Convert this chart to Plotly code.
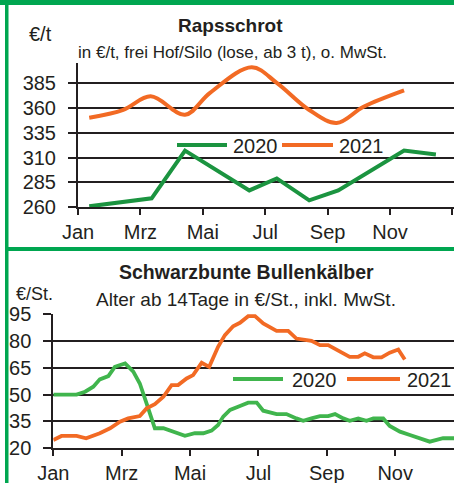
import plotly.graph_objects as go

W, H = 454, 483
FONT = "Liberation Sans, Arial, sans-serif"
TXT = "#231f20"
GREEN_DARK = "#1b9440"
GREEN_LIGHT = "#40b54d"
ORANGE = "#f26a24"
BORDER = "#00a650"

# ---- data ----
month_ticks = [0, 2, 4, 6, 8, 10, 12]
month_labels = ["Jan", "Mrz", "Mai", "Jul", "Sep", "Nov", ""]

raps_ticks = [260, 285, 310, 335, 360, 385]
raps_2020_x = [0.36, 2.36, 3.43, 5.49, 6.37, 7.41, 8.34, 10.45, 11.47]
raps_2020_y = [261, 269, 317, 277, 289, 267, 277, 317, 313]
raps_2021_x = [0.36, 1.45, 2.33, 3.43, 4.23, 5.57, 6.37, 7.40, 8.29, 9.15, 10.45]
raps_2021_y = [350, 358, 371.5, 353, 375, 400.7, 385, 358, 344.7, 361, 377.5]

kalb_ticks = [20, 35, 50, 65, 80, 95]
kalb_2020_x = [0, 0.68, 0.93, 1.17, 1.36, 1.61, 1.80, 2.10, 2.34, 2.53, 2.73, 2.97, 3.22,
               3.51, 3.85, 4.14, 4.39, 4.63, 4.82, 4.97, 5.17, 5.46, 5.70, 5.95, 6.14,
               6.53, 6.82, 7.11, 7.31, 7.55, 7.80, 8.04, 8.24, 8.48, 8.67, 8.92, 9.16,
               9.36, 9.65, 9.84, 10.14, 10.43, 10.72, 11.01, 11.40, 11.72]
kalb_2020_y = [50, 50, 51.6, 54.4, 58.5, 60.3, 65.5, 67.4, 62.8, 56.2, 45, 31.2, 31.2,
               29.3, 27, 28.4, 28.4, 29.9, 33, 37.7, 41.4, 43.6, 45.5, 45.5, 41,
               39.1, 39.1, 36.7, 35.4, 36.7, 38, 38, 39.1, 36.7, 35.4, 36.7, 35.4,
               36.7, 36.7, 32.5, 29.3, 27.4, 25.6, 23.7, 25.6, 25.6]
kalb_2021_x = [0, 0.24, 0.68, 0.96, 1.36, 1.66, 1.95, 2.19, 2.53, 2.73, 2.97, 3.22, 3.46,
               3.65, 3.90, 4.09, 4.34, 4.56, 4.82, 5.02, 5.26, 5.46, 5.70, 5.90, 6.14,
               6.53, 6.87, 7.11, 7.55, 7.80, 8.04, 8.28, 8.67, 8.92, 9.11, 9.36, 9.60,
               9.84, 10.09, 10.28]
kalb_2021_y = [24.6, 26.9, 26.9, 25.6, 28.4, 31.2, 34.9, 36.7, 38, 42.3, 44.7, 48.8, 55.3,
               55.3, 59, 60.9, 67.8, 65.5, 76.7, 83.2, 88.2, 90.1, 93.8, 93.8, 89.7,
               85.6, 85.6, 81.3, 80, 77.6, 77.6, 75.2, 71.1, 71.1, 73, 70.8, 70.8,
               73.4, 75.2, 69.6]


def px(x):
    return x / W


def py(y):
    return 1 - y / H


fig = go.Figure()
fig.add_trace(go.Scatter(x=raps_2020_x, y=raps_2020_y, mode="lines", xaxis="x", yaxis="y",
                         line=dict(color=GREEN_DARK, width=4), showlegend=False))
fig.add_trace(go.Scatter(x=raps_2021_x, y=raps_2021_y, mode="lines", xaxis="x", yaxis="y",
                         line=dict(color=ORANGE, width=4, shape="spline", smoothing=1.0),
                         showlegend=False))
fig.add_trace(go.Scatter(x=kalb_2020_x, y=kalb_2020_y, mode="lines", xaxis="x2", yaxis="y2",
                         line=dict(color=GREEN_LIGHT, width=3.8), showlegend=False))
fig.add_trace(go.Scatter(x=kalb_2021_x, y=kalb_2021_y, mode="lines", xaxis="x2", yaxis="y2",
                         line=dict(color=ORANGE, width=3.8), showlegend=False))

tickfont = dict(family=FONT, size=20, color=TXT)
xcommon = dict(tickvals=month_ticks, ticktext=month_labels, ticks="outside", ticklen=6,
               tickwidth=2, tickcolor=TXT, showgrid=False, showline=True, linewidth=2,
               linecolor=TXT, zeroline=False, tickfont=tickfont, fixedrange=True,
               automargin=False)
ycommon = dict(ticks="outside", ticklen=8, tickwidth=2, tickcolor=TXT, showgrid=True,
               gridcolor=TXT, gridwidth=2, showline=True, linewidth=2, linecolor=TXT,
               zeroline=False, tickfont=tickfont, fixedrange=True, automargin=False,
               ticklabelstandoff=8)

fig.update_layout(
    width=W, height=H, autosize=False,
    margin=dict(l=0, r=0, t=0, b=0),
    paper_bgcolor="white", plot_bgcolor="white",
    showlegend=False,
    xaxis=dict(domain=[px(78), 1], range=[0, 12.05], anchor="y", **xcommon),
    yaxis=dict(domain=[py(207.3), py(63)], range=[260, 405], tickvals=raps_ticks,
               anchor="x", **ycommon),
    xaxis2=dict(domain=[px(53.3), 1], range=[0, 11.72], anchor="y2", **xcommon),
    yaxis2=dict(domain=[py(448.3), py(314)], range=[20, 95], tickvals=kalb_ticks,
                anchor="x2", **ycommon),
)

shapes = []
# green frame
shapes.append(dict(type="rect", xref="paper", yref="paper", x0=0, x1=1, y0=py(5), y1=1,
                   fillcolor=BORDER, line=dict(width=0), layer="above"))
shapes.append(dict(type="rect", xref="paper", yref="paper", x0=px(5), x1=px(8.5), y0=0, y1=1,
                   fillcolor=BORDER, line=dict(width=0), layer="above"))
shapes.append(dict(type="rect", xref="paper", yref="paper", x0=px(5), x1=1, y0=py(251), y1=py(247),
                   fillcolor=BORDER, line=dict(width=0), layer="above"))


def legend_line(x0, x1, y, color, w):
    return dict(type="line", xref="paper", yref="paper", x0=px(x0), x1=px(x1), y0=py(y), y1=py(y),
                line=dict(color=color, width=w), layer="above")


shapes += [legend_line(177, 227, 145, GREEN_DARK, 4), legend_line(282, 333, 145, ORANGE, 4),
           legend_line(233, 283, 379, GREEN_LIGHT, 4), legend_line(347, 400, 379, ORANGE, 4)]
fig.update_layout(shapes=shapes)

ann = []


def text(t, x, y, size, anchor="center", bold=False):
    ann.append(dict(text=("<b>%s</b>" % t) if bold else t, x=px(x), y=py(y), xref="paper",
                    yref="paper", xanchor=anchor, yanchor="middle", showarrow=False,
                    font=dict(family=FONT, size=size, color=TXT)))


text("Rapsschrot", 231, 25, 19, bold=True)
text("in €/t, frei Hof/Silo (lose, ab 3 t), o. MwSt.", 232, 52, 17)
text("€/t", 27, 34, 20, anchor="left")
text("2020", 231, 146, 20, anchor="left")
text("2021", 337, 146, 20, anchor="left")

text("Schwarzbunte Bullenkälber", 246, 272, 19.5, bold=True)
text("Alter ab 14Tage in €/St., inkl. MwSt.", 246, 299, 19)
text("€/St.", 14, 294, 18, anchor="left")
text("2020", 290, 380, 20, anchor="left")
text("2021", 405, 380, 20, anchor="left")

fig.update_layout(annotations=ann)

fig.write_html("out.html", config={"displayModeBar": False},
               post_script="document.body.style.margin='0px';document.body.style.overflow='hidden';")
